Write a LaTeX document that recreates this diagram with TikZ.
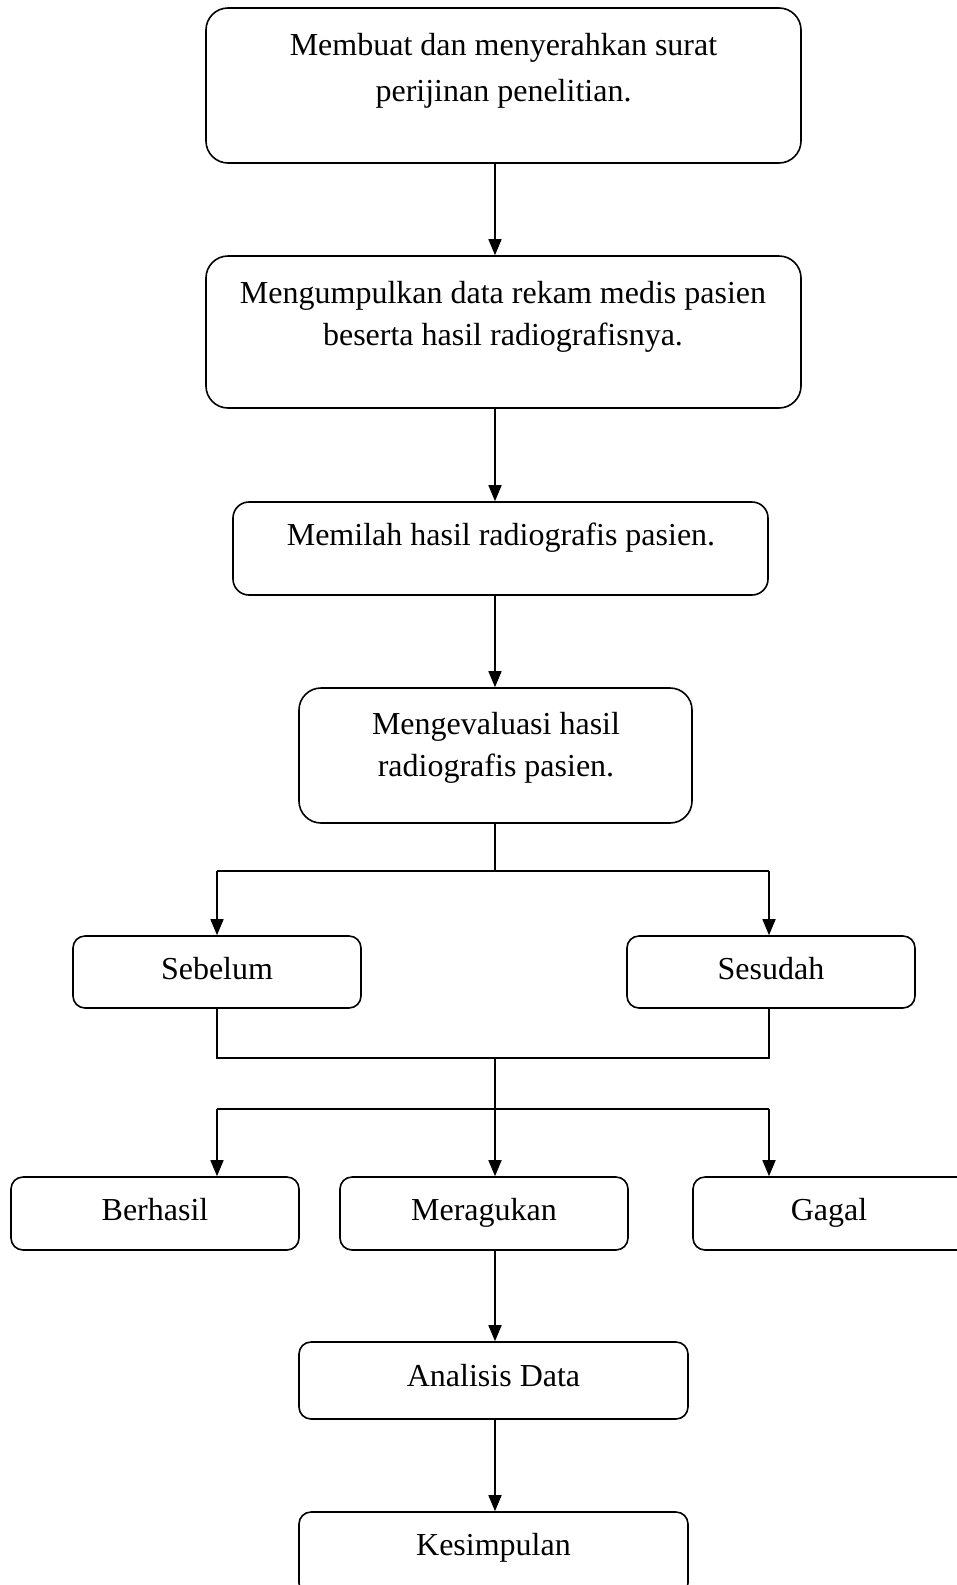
\documentclass[tikz,border=0pt]{standalone}
\usepackage{fontspec}
\setmainfont{Liberation Serif}
\usetikzlibrary{arrows.meta}
\begin{document}
\begin{tikzpicture}[x=1pt,y=-1pt,
  bigbox/.style={draw, line width=1.6pt, rounded corners=22pt, inner sep=0pt},
  smallbox/.style={draw, line width=1.6pt, rounded corners=12pt, inner sep=0pt},
  lbl/.style={font=\fontsize{32}{41}\selectfont, anchor=base, inner sep=0pt},
  conn/.style={line width=1.6pt},
  arr/.style={line width=1.6pt, -{Triangle[length=16pt,width=13pt]}}]
\useasboundingbox (0,0) rectangle (956,1585);
% boxes
\node[bigbox, minimum width=595, minimum height=155] (b1) at (503.5,85.5) {};
\node[lbl] (t1a) at (503.5,55) {Membuat dan menyerahkan surat};
\node[lbl] (t1b) at (503.5,101) {perijinan penelitian.};
\node[bigbox, minimum width=595, minimum height=152] (b2) at (503.5,332) {};
\node[lbl] (t2a) at (503,303) {Mengumpulkan data rekam medis pasien};
\node[lbl] (t2b) at (503,345) {beserta hasil radiografisnya.};
\node[smallbox, rounded corners=16pt, minimum width=535, minimum height=93] (b3) at (500.5,548.5) {};
\node[lbl] (t3) at (501,545) {Memilah hasil radiografis pasien.};
\node[bigbox, minimum width=393, minimum height=135] (b4) at (495.5,755.5) {};
\node[lbl] (t4a) at (496,734) {Mengevaluasi hasil};
\node[lbl] (t4b) at (496,776) {radiografis pasien.};
\node[smallbox, minimum width=288, minimum height=72] (s1) at (217,972) {};
\node[lbl] (ts1) at (217,979) {Sebelum};
\node[smallbox, minimum width=288, minimum height=72] (s2) at (771,972) {};
\node[lbl] (ts2) at (771,979) {Sesudah};
\node[smallbox, minimum width=288, minimum height=73] (r1) at (155,1213.5) {};
\node[lbl] (tr1) at (155,1220) {Berhasil};
\node[smallbox, minimum width=288, minimum height=73] (r2) at (484,1213.5) {};
\node[lbl] (tr2) at (484,1220) {Meragukan};
\node[smallbox, minimum width=288, minimum height=73] (r3) at (837,1213.5) {};
\node[lbl] (tr3) at (829,1220) {Gagal};
\node[smallbox, minimum width=389, minimum height=77] (a1) at (493.5,1380.5) {};
\node[lbl] (ta1) at (493.5,1386) {Analisis Data};
\node[smallbox, minimum width=389, minimum height=83] (k1) at (493.5,1553.5) {};
\node[lbl] (tk1) at (493.5,1555) {Kesimpulan};
% helper coordinates
\coordinate (cx) at (495,0);
\coordinate (sp1) at (495,871);
\coordinate (sp1l) at (217,871);
\coordinate (sp1r) at (769,871);
\coordinate (jn) at (495,1058);
\coordinate (jnl) at (217,1058);
\coordinate (jnr) at (769,1058);
\coordinate (sp2) at (495,1109);
\coordinate (sp2l) at (217,1109);
\coordinate (sp2r) at (769,1109);
% connectors
\draw[arr] (b1.south -| cx) -- (b2.north -| cx);
\draw[arr] (b2.south -| cx) -- (b3.north -| cx);
\draw[arr] (b3.south -| cx) -- (b4.north -| cx);
\draw[conn] (b4.south -| cx) -- (sp1);
\draw[conn] (sp1l) -- (sp1r);
\draw[arr] (sp1l) -- (s1.north -| sp1l);
\draw[arr] (sp1r) -- (s2.north -| sp1r);
\draw[conn] (s1.south -| jnl) -- (jnl) -- (jnr) -- (s2.south -| jnr);
\draw[conn] (jn) -- (sp2);
\draw[conn] (sp2l) -- (sp2r);
\draw[arr] (sp2l) -- (r1.north -| sp2l);
\draw[arr] (sp2) -- (r2.north -| sp2);
\draw[arr] (sp2r) -- (r3.north -| sp2r);
\draw[arr] (r2.south -| cx) -- (a1.north -| cx);
\draw[arr] (a1.south -| cx) -- (k1.north -| cx);
\end{tikzpicture}
\end{document}
